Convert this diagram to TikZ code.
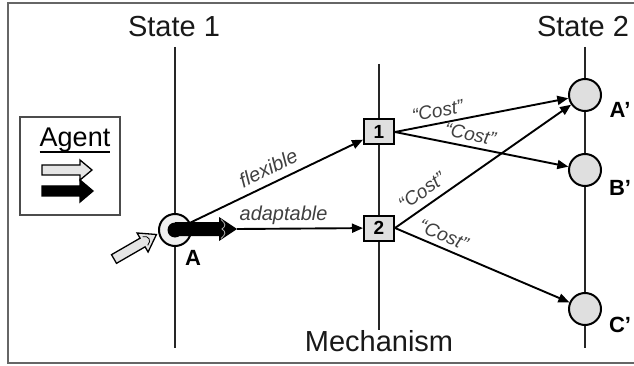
\documentclass[tikz,border=0pt]{standalone}
\usepackage{fontspec}
\setmainfont{Liberation Sans}
\usetikzlibrary{arrows.meta}
\begin{document}
\begin{tikzpicture}[x=1pt,y=-1pt,
  axis/.style={line width=2.2pt, draw=black!85},
  conn/.style={draw=black, line width=1.9pt, -{Triangle[length=11pt,width=9pt]}},
  mechbox/.style={draw, line width=2pt, fill=gray!25, minimum width=30pt, minimum height=25pt, inner sep=0pt, font=\fontsize{19}{19}\selectfont\bfseries},
  stnode/.style={circle, draw, line width=2pt, fill=gray!25, minimum size=32pt, inner sep=0pt},
  title/.style={font=\fontsize{29}{29}\selectfont, text=black!90, inner sep=0pt, anchor=base},
  stlbl/.style={font=\fontsize{22}{22}\selectfont\bfseries, inner sep=0pt},
  elbl/.style={font=\fontsize{20}{20}\selectfont\itshape, text=black!75, sloped, inner sep=1pt},
  costlbl/.style={font=\fontsize{19}{19}\selectfont\itshape, text=black!75, sloped, inner sep=1pt},
  fatarrow/.style={draw=black, line width=1.3pt, line join=miter}
]
\useasboundingbox (0,0) rectangle (634,366);
\clip (0,0) rectangle (634,366);
\fill[white] (0,0) rectangle (634,366);
\draw[black!60, line width=2.4pt] (640,3) -- (8,3) -- (8,363) -- (640,363);

% titles
\node[title] (s1) at (174,37) {State 1};
\node[title] (s2) at (583,37) {State 2};
\node[title] (mech) at (379,351) {Mechanism};

% axes
\draw[axis] (175,47) -- (175,348);
\draw[axis] (379,64) -- (379,330);
\draw[axis] (585,47) -- (585,348);

% agent legend
\node[draw=black!70, line width=1.6pt, minimum width=100pt, minimum height=98pt, inner sep=0pt] (agentbox) at (70,166) {};
\node[font=\fontsize{27}{27}\selectfont, inner sep=0pt, anchor=base] (agt) at (75,147) {Agent};
\draw[line width=1.4pt] ([yshift=-5pt]agt.base west) -- ([yshift=-5pt]agt.base east);
\draw[fatarrow, fill=gray!20] (42,165) -- (80,165) -- (80,160) -- (92,170) -- (80,180) -- (80,175) -- (42,175) -- cycle;
\draw[fatarrow, fill=black] (42,186) -- (80,186) -- (80,180) -- (93,191) -- (80,202) -- (80,196) -- (42,196) -- cycle;

% mechanism boxes
\node[mechbox] (b1) at (379,132) {1};
\node[mechbox] (b2) at (379,228) {2};

% state 2 nodes
\node[stnode] (Ap) at (585,95) {};
\node[stnode] (Bp) at (585,170) {};
\node[stnode] (Cp) at (585,309) {};
\node[stlbl] (lAp) at (620,110) {A’};
\node[stlbl] (lBp) at (620,188) {B’};
\node[stlbl] (lCp) at (620,325) {C’};

% agent state A
\node[circle, draw, line width=2pt, fill=gray!12, minimum size=32pt, inner sep=0pt] (A) at (175,230) {};
\fill[black] (A.center) circle (7.5pt);
\node[stlbl] (lA) at (193,258) {A};
\fill[black] (175,222) -- (219,222) -- (219,217) -- (237,229) -- (219,241) -- (219,236) -- (175,236) -- cycle;
\draw[gray!60, line width=0.8pt] (221,219.5) .. controls (226,224) and (226,226) .. (222,229) .. controls (226,232) and (226,234) .. (221,238.5);
\coordinate (At) at (237,229);

% incoming gray arrow
\begin{scope}[shift={(114,259)}, rotate=30]
  \draw[fatarrow, fill=gray!20] (0,-5) -- (33,-5) -- (33,-11) -- (49,0) -- (33,11) -- (33,5) -- (0,5) -- cycle;
  \draw[line width=0.8pt] (36,-5) .. controls (42,-3) and (42,3) .. (36,5);
\end{scope}

% connectors
\draw[conn] (A) -- node[elbl, pos=0.49, above=6pt] {flexible} (b1);
\draw[conn] (At) -- node[elbl, pos=0.37, above=2pt] {adaptable} (b2);
\draw[conn] (b1.east) -- node[costlbl, pos=0.26, above=4pt] {“Cost”} (Ap);
\draw[conn] (b1.east) -- node[costlbl, pos=0.42, above=4pt] {“Cost”} (Bp);
\draw[conn] (b2.east) -- node[costlbl, pos=0.2, above=6pt] {“Cost”} (Ap);
\draw[conn] (b2.east) -- node[costlbl, pos=0.25, above=4pt] {“Cost”} (Cp);
\end{tikzpicture}
\end{document}
